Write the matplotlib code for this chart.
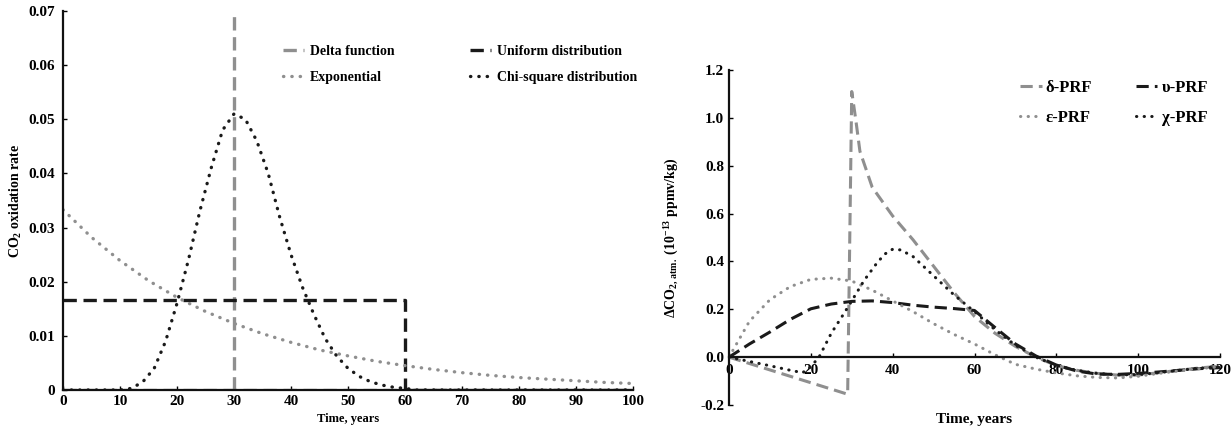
import numpy as np
import matplotlib
matplotlib.use("Agg")
import matplotlib.pyplot as plt

plt.rcParams['font.family'] = ['Liberation Serif', 'DejaVu Serif']
plt.rcParams['font.weight'] = 'bold'
plt.rcParams['mathtext.fontset'] = 'custom'
plt.rcParams['mathtext.rm'] = 'Liberation Serif:bold'
plt.rcParams['mathtext.it'] = 'Liberation Serif:bold'
plt.rcParams['mathtext.bf'] = 'Liberation Serif:bold'
plt.rcParams['mathtext.default'] = 'rm'

GRAY = '#8f8f8f'
DARK = '#1a1a1a'

# ---- left panel: oxidation rate functions ----
# nan splits the spike from the baseline so the dashes stay visible
delta_t = [30, 30, np.nan, 0, 100]
delta_y = [0, 0.08, np.nan, 0, 0]

unif_t = [0, 60, 60, 100]
unif_y = [0.01667, 0.01667, 0, 0]

exp_t = [0, 5, 10, 15, 20, 25, 30, 35, 40, 45, 50, 55, 60, 65, 70, 75, 80, 85, 90, 95, 100]
exp_y = [0.0333, 0.0282, 0.0239, 0.0202, 0.0171, 0.0145, 0.0123, 0.0104, 0.0088, 0.0074,
         0.0063, 0.0053, 0.0045, 0.0038, 0.0032, 0.0027, 0.0023, 0.0020, 0.0017, 0.0014, 0.0012]

chi_t = [0, 10, 12, 14, 16, 18, 20, 22, 24, 26, 28, 30, 32, 34, 36, 38, 40, 42, 44, 46, 48,
         50, 52, 54, 56, 58, 60, 62, 100]
chi_y = [0, 0, 0.0003, 0.0015, 0.004, 0.009, 0.016, 0.024, 0.033, 0.041, 0.048, 0.051, 0.050,
         0.046, 0.040, 0.032, 0.025, 0.019, 0.014, 0.0095, 0.0063, 0.004, 0.0025, 0.0015,
         0.0009, 0.0005, 0.0003, 0, 0]

# ---- right panel: pulse response functions ----
d_prf_t = [0, 29, 30, 31, 32, 35, 40, 45, 50, 55, 60, 65, 70, 75, 80, 85, 90, 95, 100, 105, 110, 115, 120]
d_prf_y = [0, -0.155, 1.11, 0.99, 0.86, 0.71, 0.59, 0.49, 0.38, 0.27, 0.17, 0.10, 0.045, 0.0,
           -0.035, -0.055, -0.068, -0.075, -0.075, -0.065, -0.055, -0.045, -0.038]

u_prf_t = [0, 5, 10, 15, 20, 25, 30, 35, 40, 45, 50, 55, 60, 65, 70, 75, 80, 85, 90, 95, 100, 105, 110, 115, 120]
u_prf_y = [0, 0.055, 0.105, 0.158, 0.202, 0.222, 0.233, 0.235, 0.228, 0.217, 0.209, 0.203, 0.195,
           0.124, 0.055, 0.005, -0.033, -0.058, -0.071, -0.072, -0.068, -0.062, -0.055, -0.048, -0.044]

e_prf_t = [0, 5, 10, 15, 20, 25, 30, 35, 40, 45, 50, 55, 60, 65, 70, 75, 80, 85, 90, 95, 100, 105, 110, 115, 120]
e_prf_y = [0, 0.15, 0.24, 0.295, 0.325, 0.33, 0.318, 0.28, 0.235, 0.19, 0.14, 0.095, 0.055,
           0.01, -0.03, -0.05, -0.066, -0.078, -0.085, -0.087, -0.08, -0.068, -0.057, -0.048, -0.04]

c_prf_t = [0, 5, 10, 15, 18, 20, 22, 25, 28, 30, 33, 36, 38, 40, 42, 45, 50, 55, 60, 65, 70, 75,
           80, 85, 90, 95, 100, 105, 110, 115, 120]
c_prf_y = [0, -0.018, -0.036, -0.055, -0.065, -0.04, 0.0, 0.10, 0.18, 0.235, 0.32, 0.39, 0.43,
           0.451, 0.448, 0.42, 0.34, 0.26, 0.19, 0.115, 0.05, 0.0, -0.035, -0.055, -0.068,
           -0.074, -0.073, -0.065, -0.055, -0.046, -0.04]

fig = plt.figure(figsize=(12.31, 4.32), dpi=100)

ax1 = fig.add_axes([63 / 1231, 1 - 390 / 432, 570 / 1231, 379 / 432])
ax2 = fig.add_axes([729 / 1231, 1 - 405 / 432, 491 / 1231, 335 / 432])

dash = dict(dashes=(4, 2))
dot = dict(dashes=(0.1, 2.4), dash_capstyle='round')

# left
h_delta, = ax1.plot(delta_t, delta_y, color=GRAY, lw=2.4, **dash)
h_unif, = ax1.plot(unif_t, unif_y, color=DARK, lw=2.4, **dash)
h_exp, = ax1.plot(exp_t, exp_y, color=GRAY, lw=2.4, **dot)
h_chi, = ax1.plot(chi_t, chi_y, color=DARK, lw=2.4, **dot)

ax1.set_xlim(0, 100)
ax1.set_ylim(0, 0.07)
ax1.set_xticks(range(0, 101, 10))
ax1.set_yticks([0, 0.01, 0.02, 0.03, 0.04, 0.05, 0.06, 0.07])
ax1.set_yticklabels(['0', '0.01', '0.02', '0.03', '0.04', '0.05', '0.06', '0.07'])
ax1.set_xlabel('Time, years', fontsize=9, fontweight='bold', labelpad=4)
ax1.set_ylabel(r'CO$_2$ oxidation rate', fontsize=10, fontweight='bold', labelpad=3)
ax1.legend([h_delta, h_exp, h_unif, h_chi],
           ['Delta function', 'Exponential', 'Uniform distribution', 'Chi-square distribution'],
           ncol=2, frameon=False, fontsize=10, handlelength=1.5, handletextpad=0.45,
           columnspacing=5.4, labelspacing=0.95, borderpad=0, borderaxespad=0,
           loc='upper left', bbox_to_anchor=(283 / 1231, 1 - 45 / 432),
           bbox_transform=fig.transFigure)

# right
h_d, = ax2.plot(d_prf_t, d_prf_y, color=GRAY, lw=2.2, **dash)
h_u, = ax2.plot(u_prf_t, u_prf_y, color=DARK, lw=2.2, **dash)
h_e, = ax2.plot(e_prf_t, e_prf_y, color=GRAY, lw=2.2, **dot)
h_c, = ax2.plot(c_prf_t, c_prf_y, color=DARK, lw=2.2, **dot)

ax2.set_xlim(0, 120)
ax2.set_ylim(-0.2, 1.2)
ax2.set_xticks(range(0, 121, 20))
ax2.set_yticks(np.arange(-0.2, 1.21, 0.2))
ax2.set_yticklabels(['-0.2', '0.0', '0.2', '0.4', '0.6', '0.8', '1.0', '1.2'])
ax2.spines['bottom'].set_position(('data', 0))
ax2.set_xlabel('Time, years', fontsize=11, fontweight='bold', labelpad=26)
ax2.set_ylabel(r'ΔCO$_{2,\,atm.}$ (10$^{-13}$ ppmv/kg)', fontsize=10, fontweight='bold', labelpad=14)
ax2.legend([h_d, h_e, h_u, h_c], ['δ-PRF', 'ε-PRF', 'υ-PRF', 'χ-PRF'],
           ncol=2, frameon=False, fontsize=12, handlelength=1.3, handletextpad=0.25,
           columnspacing=2.6, labelspacing=0.85, borderpad=0, borderaxespad=0,
           loc='upper left', bbox_to_anchor=(1020 / 1231, 1 - 80 / 432),
           bbox_transform=fig.transFigure)

for ax in (ax1, ax2):
    for s in ('top', 'right'):
        ax.spines[s].set_visible(False)
    for s in ('left', 'bottom'):
        ax.spines[s].set_linewidth(1.6)
        ax.spines[s].set_color('#111111')
    ax.tick_params(direction='in', length=3, width=1, labelsize=11)
    for lab in ax.get_xticklabels() + ax.get_yticklabels():
        lab.set_fontweight('bold')

ax1.tick_params(axis='y', pad=6)
ax2.tick_params(axis='x', pad=5)

fig.savefig('out.png', dpi=100)
